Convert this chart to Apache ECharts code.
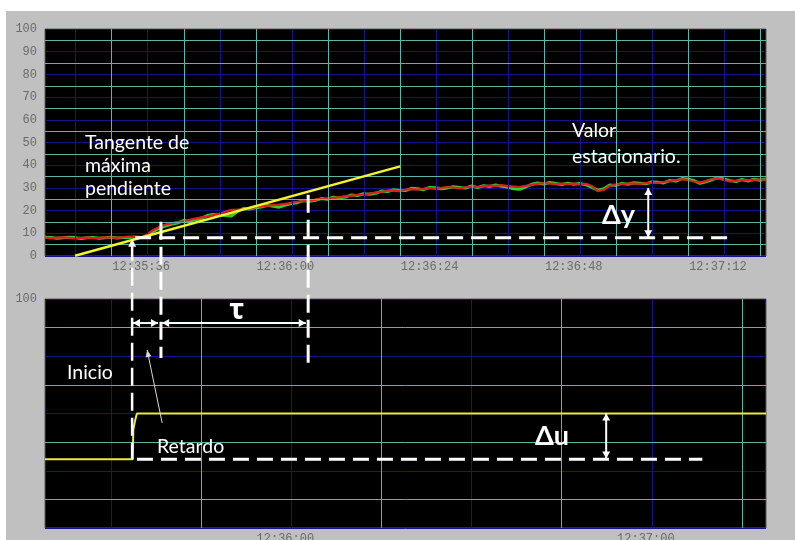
<!DOCTYPE html>
<html>
<head>
<meta charset="utf-8">
<script src="https://cdn.jsdelivr.net/npm/echarts@6/dist/echarts.min.js"></script>
<style>
  html, body { margin: 0; padding: 0; background: #ffffff; }
  #wrap { position: relative; width: 795px; height: 540px; overflow: hidden; }
  #panel { position: absolute; left: 6px; top: 11px; width: 789px; height: 529px; background: #c0c0c0; }
  #chart { position: absolute; left: 0; top: 0; width: 795px; height: 540px; }
</style>
</head>
<body>
<div id="wrap"><div id="panel"></div><div id="chart"></div></div>
<script>
// Time is expressed in seconds after 12:35:20, one sample per second.
const sampleSeconds = Array.from({ length: 121 }, (_, i) => i);

// Process variable, red trace
const pvRed = [
  8.0, 7.9, 8.1, 8.2, 8.0, 7.8, 8.0, 8.1, 7.9, 8.0, 8.2, 8.1, 8.0, 8.3, 8.6, 8.2, 8.0,
  9.5, 11.5, 12.8, 13.8, 14.4, 14.9, 15.3, 15.9, 16.5, 17.0, 17.4, 18.0, 18.6, 19.5,
  20.3, 20.4, 20.6, 21.0, 21.5, 21.9, 22.1, 22.4, 22.6, 23.0, 23.4, 23.9, 24.2, 24.4, 24.8,
  25.1, 25.4, 25.6, 25.9, 26.3, 26.6, 26.9, 27.1, 27.5, 27.9, 28.3, 28.8, 28.9, 28.5, 29.2,
  29.5, 29.3, 29.6, 29.9, 29.7, 30.0, 30.4, 30.1, 29.8, 30.3, 30.6, 30.4, 30.7, 31.0, 30.9,
  31.2, 30.8, 30.6, 30.4, 30.9, 31.3, 31.8, 32.1, 32.0, 31.6, 31.9, 31.7, 31.9, 31.5, 31.8,
  30.8, 28.6, 29.2, 30.9, 31.5, 31.7, 31.9, 32.0, 31.8, 32.1, 32.3, 32.2, 32.6, 33.0, 33.4,
  33.8, 33.5, 32.8, 32.3, 33.0, 33.9, 34.2, 33.5, 32.9, 33.1, 33.4, 33.3, 33.5, 33.7, 33.6
];

// Process variable, green trace
const pvGreen = [
  8.3, 8.1, 7.8, 8.0, 8.3, 8.1, 7.7, 8.0, 8.2, 7.8, 8.0, 8.3, 7.9, 8.1, 8.2, 8.4, 8.1,
  9.0, 10.8, 12.2, 13.2, 14.0, 14.5, 15.6, 15.4, 16.0, 16.6, 17.8, 18.3, 18.1, 17.8,
  17.6, 19.6, 20.9, 20.7, 21.2, 21.6, 22.3, 21.9, 21.5, 22.4, 23.1, 23.5, 24.4, 24.1, 24.5,
  25.3, 25.0, 25.9, 25.6, 26.0, 26.9, 26.6, 27.4, 27.2, 27.6, 28.6, 28.4, 29.2, 28.9, 28.8,
  29.8, 29.6, 29.2, 30.2, 30.1, 29.6, 30.0, 30.5, 30.2, 29.9, 30.9, 30.1, 31.0, 30.6, 31.3,
  30.7, 30.3, 29.6, 29.4, 30.4, 31.6, 32.2, 31.7, 32.4, 31.9, 31.5, 32.1, 31.6, 31.9, 31.4,
  30.2, 29.0, 29.6, 31.3, 31.1, 32.0, 31.6, 32.3, 32.1, 31.8, 32.6, 32.5, 32.2, 33.3, 33.0,
  34.1, 33.9, 33.2, 32.0, 32.7, 33.6, 34.5, 33.9, 33.2, 32.8, 33.7, 33.0, 33.8, 33.4, 33.9
];

// Controller output step
const stepSeconds = [0, 14.6, 14.7, 15.0, 15.3, 120];
const stepValues  = [30, 30, 43, 47, 50, 50];

// Maximum-slope tangent
const tangentSeconds = [5.0, 59.1];
const tangentValues  = [0.1, 39.5];

// Time tick labels
const topTickSeconds = [16, 40, 64, 88, 112];
const topTickLabels = ['12:35:36', '12:36:00', '12:36:24', '12:36:48', '12:37:12'];
const bottomTickSeconds = [40, 100];
const bottomTickLabels = ['12:36:00', '12:37:00'];

// Identification marks
const markInicio = 14.5, markRetardo = 19.3, markTau = 43.8;
const pvBase = 8, pvFinal = 30;
const uBase = 30, uFinal = 50;
const deltaYSecond = 100.4, deltaUSecond = 93.4;

const CYAN = '#5fb4a6';
const BLUE = '#13138c';
const WHITE = '#ffffff';
const LABEL_FONT = { fontFamily: 'Liberation Mono', fontSize: 12, color: '#6a6a6a' };

function lines(axis, start, step, end, color) {
  const out = [];
  for (let v = start; v < end + 1e-6; v += step) {
    out.push({ [axis]: Math.round(v * 100) / 100, lineStyle: { color: color, width: 1, type: 'solid' } });
  }
  return out;
}

function gridSeries(idx, marks) {
  return {
    type: 'line', xAxisIndex: idx, yAxisIndex: idx, data: [], z: 1, silent: true,
    markLine: {
      silent: true, animation: false, symbol: ['none', 'none'],
      label: { show: false }, emphasis: { disabled: true },
      data: marks
    }
  };
}

const chart = echarts.init(document.getElementById('chart'), null, { renderer: 'canvas' });

const option = {
  animation: false,
  backgroundColor: 'transparent',
  grid: [
    { left: 45, top: 29, width: 721, height: 227, show: true, backgroundColor: '#000',
      borderColor: '#5a5a5a', borderWidth: 1, containLabel: false, outerBoundsMode: 'none' },
    { left: 45, top: 299, width: 721, height: 229, show: true, backgroundColor: '#000',
      borderColor: '#5a5a5a', borderWidth: 1, containLabel: false, outerBoundsMode: 'none' }
  ],
  xAxis: [
    {
      gridIndex: 0, type: 'value', min: 0, max: 120, interval: 8,
      axisLine: { show: false }, axisTick: { show: false }, splitLine: { show: false },
      axisLabel: Object.assign({ margin: 5, hideOverlap: false,
        formatter: v => { const i = topTickSeconds.indexOf(v); return i >= 0 ? topTickLabels[i] : ''; } }, LABEL_FONT)
    },
    {
      gridIndex: 1, type: 'value', min: 0, max: 120, interval: 20,
      axisLine: { show: false }, axisTick: { show: false }, splitLine: { show: false },
      axisLabel: Object.assign({ margin: 5, hideOverlap: false,
        formatter: v => { const i = bottomTickSeconds.indexOf(v); return i >= 0 ? bottomTickLabels[i] : ''; } }, LABEL_FONT)
    }
  ],
  yAxis: [
    {
      gridIndex: 0, type: 'value', min: 0, max: 100, interval: 10,
      axisLine: { show: false }, axisTick: { show: false },
      splitLine: { show: true, lineStyle: { color: BLUE, width: 1 } },
      axisLabel: Object.assign({ margin: 8, hideOverlap: false }, LABEL_FONT)
    },
    {
      gridIndex: 1, type: 'value', min: 0, max: 100, interval: 25,
      axisLine: { show: false }, axisTick: { show: false },
      splitLine: { show: true, lineStyle: { color: BLUE, width: 1 } },
      axisLabel: Object.assign({ margin: 8, hideOverlap: false,
        formatter: v => (v === 100 ? '100' : '') }, LABEL_FONT)
    }
  ],
  series: [
    gridSeries(0, [].concat(
      lines('xAxis', 5.1, 12, 120, BLUE),
      lines('yAxis', 5, 10, 100, CYAN),
      lines('xAxis', 11.1, 12, 120, CYAN)
    )),
    gridSeries(1, [].concat(
      lines('xAxis', 11, 30, 120, BLUE),
      lines('yAxis', 12.5, 25, 100, CYAN),
      lines('xAxis', 26, 30, 120, CYAN)
    )),
    {
      name: 'PV verde', type: 'line', xAxisIndex: 0, yAxisIndex: 0, z: 3,
      data: sampleSeconds.map((t, i) => [t, pvGreen[i]]),
      showSymbol: false, symbol: 'none', lineStyle: { color: '#2fd02f', width: 3 }
    },
    {
      name: 'PV rojo', type: 'line', xAxisIndex: 0, yAxisIndex: 0, z: 4,
      data: sampleSeconds.map((t, i) => [t, pvRed[i]]),
      showSymbol: false, symbol: 'none', lineStyle: { color: '#e01e1e', width: 2.2 }
    },
    {
      name: 'Tangente', type: 'line', xAxisIndex: 0, yAxisIndex: 0, z: 5,
      data: tangentSeconds.map((t, i) => [t, tangentValues[i]]),
      showSymbol: false, symbol: 'none', lineStyle: { color: '#f4f428', width: 2.5 }
    },
    {
      name: 'Salida', type: 'line', xAxisIndex: 1, yAxisIndex: 1, z: 5,
      data: stepSeconds.map((t, i) => [t, stepValues[i]]),
      showSymbol: false, symbol: 'none', lineStyle: { color: '#e8e84a', width: 2 }
    }
  ]
};

chart.setOption(option);

// Annotation overlay, positioned through the chart's own coordinate systems
const p0 = p => chart.convertToPixel({ gridIndex: 0 }, p);
const p1 = p => chart.convertToPixel({ gridIndex: 1 }, p);

function dashed(a, b, width, dash) {
  return { type: 'line', z: 100, silent: true,
    shape: { x1: a[0], y1: a[1], x2: b[0], y2: b[1] },
    style: { stroke: WHITE, lineWidth: width, lineDash: dash } };
}
function solid(a, b, width, color) {
  return { type: 'line', z: 100, silent: true,
    shape: { x1: a[0], y1: a[1], x2: b[0], y2: b[1] },
    style: { stroke: color || WHITE, lineWidth: width } };
}
function head(from, tip, len, half, color) {
  const dx = tip[0] - from[0], dy = tip[1] - from[1];
  const n = Math.hypot(dx, dy) || 1;
  const ux = dx / n, uy = dy / n;
  const bx = tip[0] - ux * len, by = tip[1] - uy * len;
  return { type: 'polygon', z: 101, silent: true,
    shape: { points: [[tip[0], tip[1]], [bx - uy * half, by + ux * half], [bx + uy * half, by - ux * half]] },
    style: { fill: color || WHITE } };
}
function doubleArrow(a, b, width) {
  return [solid(a, b, width), head(b, a, 7, 4), head(a, b, 7, 4)];
}
function text(str, x, y, font, align) {
  return { type: 'text', z: 102, silent: true, x: x, y: y,
    style: { text: str, fill: WHITE, font: font, align: align || 'left', verticalAlign: 'middle',
             textAlign: align || 'left', textVerticalAlign: 'middle' } };
}

const DASH = [18, 7];
const els = [];

// Baselines
els.push(dashed(p0([15, pvBase]), p0([113.7, pvBase]), 3, [16, 8]));
els.push(dashed(p1([15.3, uBase]), p1([109.4, uBase]), 3, [16, 8]));

// Vertical guides crossing both panels
const inicioTop = p0([markInicio, 7.6]);
els.push(dashed([inicioTop[0], inicioTop[1] + 4], p1([markInicio, uBase]), 2.5, DASH));
els.push(head([inicioTop[0], inicioTop[1] + 10], inicioTop, 8, 4));
els.push(dashed(p0([markRetardo, 15.1]), p1([markRetardo, 74.2]), 3, DASH));
els.push(dashed(p0([markTau, 27]), p1([markTau, 69.9]), 3, DASH));

// Delay and time-constant arrows
els.push(...doubleArrow(p1([14.65, 89.5]), p1([18.8, 89.5]), 2));
els.push(...doubleArrow(p1([19.5, 89.5]), p1([43.4, 89.5]), 2));

// Change in output and input
els.push(...doubleArrow(p0([deltaYSecond, pvBase + 0.3]), p0([deltaYSecond, pvFinal]), 2));
els.push(...doubleArrow(p1([deltaUSecond, uBase + 0.3]), p1([deltaUSecond, uFinal]), 2));

// Pointer from the delay label
const rFrom = p1([19.5, 45.9]), rTo = p1([17.0, 77.7]);
els.push(solid(rFrom, rTo, 1, '#d8d8d8'));
els.push(head(rFrom, rTo, 7, 3, '#d8d8d8'));

// Labels
const F = '19.5px Lato, "Noto Sans", sans-serif';
const FB = 'bold 27px Lato, "Noto Sans", sans-serif';
els.push(text('Tangente de', 85, 143, F));
els.push(text('máxima', 85, 166, F));
els.push(text('pendiente', 85, 189, F));
els.push(text('Valor', 572, 131, F));
els.push(text('estacionario.', 572, 157, F));
els.push(text('Δy', 602, 215, FB));
els.push(text('Δu', 535, 436, FB));
els.push(text('τ', 237, 311, 'bold 28px "Noto Sans", sans-serif', 'center'));
els.push(text('Inicio', 67, 373, F));
els.push(text('Retardo', 157, 447, F));

chart.setOption({ graphic: els });
</script>
</body>
</html>
